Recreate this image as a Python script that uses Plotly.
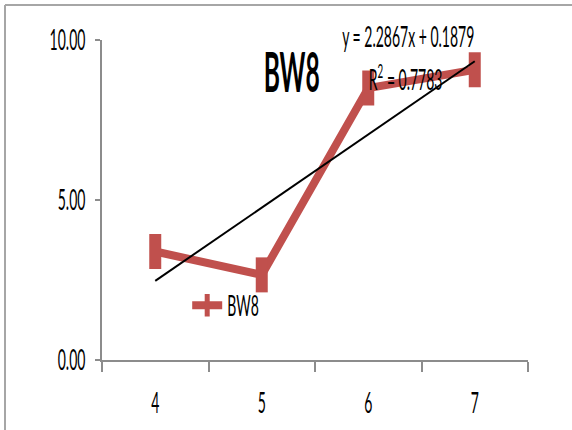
import numpy as np
import plotly.graph_objects as go

categories = ["4", "5", "6", "7"]
bw8_values = [3.39, 2.66, 8.50, 9.07]
y_tick_vals = [0, 5, 10]
y_tick_text = ["0.00", "5.00", "10.00"]
title_text = "BW8"
trend_eq_text = "y = 2.2867x + 0.1879"
trend_r2_text = "R<sup>2</sup> = 0.7783"

RED = "#C0504D"
AXIS = "#8C8C8C"
FONT = "Lato, Liberation Sans, sans-serif"

# linear trendline (Excel-style, x = 1..n)
xi = np.arange(1, len(bw8_values) + 1)
slope, intercept = np.polyfit(xi, bw8_values, 1)
trend_x = [categories[0], categories[-1]]
trend_y = [slope * xi[0] + intercept, slope * xi[-1] + intercept]

fig = go.Figure()
fig.add_trace(go.Scatter(
    x=categories, y=bw8_values, mode="lines+markers", name="BW8",
    line=dict(color=RED, width=8),
    marker=dict(symbol="line-ns", size=25, color=RED,
                line=dict(color=RED, width=12)),
))
fig.add_trace(go.Scatter(
    x=trend_x, y=trend_y, mode="lines", showlegend=False,
    line=dict(color="black", width=2), hoverinfo="skip",
))

fig.update_layout(
    width=572, height=430,
    margin=dict(l=102, r=44, t=40, b=70),
    paper_bgcolor="white", plot_bgcolor="white",
    font=dict(family=FONT, size=28, color="black"),
    showlegend=True,
    legend=dict(x=0.2, y=0.17, xanchor="left", yanchor="middle",
                bgcolor="rgba(0,0,0,0)", font=dict(size=28),
                itemwidth=30, tracegroupgap=0),
    title=dict(text="<b>" + title_text + "</b>", x=0.51, xanchor="center",
               y=1 - 72 / 430, yanchor="middle", yref="container",
               font=dict(size=56, family=FONT)),
)
fig.update_xaxes(
    type="category", categoryorder="array", categoryarray=categories,
    tickson="boundaries", ticks="outside", ticklen=10, tickwidth=2,
    tickcolor=AXIS, showline=True, linecolor=AXIS, linewidth=2,
    showgrid=False, zeroline=False, tickfont=dict(size=28),
    range=[-0.5, 3.5], fixedrange=True, ticklabelstandoff=17,
)
fig.update_yaxes(
    range=[0, 10], tickvals=y_tick_vals, ticktext=y_tick_text,
    ticks="outside", ticklen=5, tickwidth=2, tickcolor=AXIS,
    showline=True, linecolor=AXIS, linewidth=2,
    showgrid=False, zeroline=False, tickfont=dict(size=28),
    ticklabelstandoff=4,
)

fig.add_annotation(text=trend_eq_text, xref="paper", yref="paper",
                   x=(408 - 102) / 426, y=(360 - 36) / 320,
                   xanchor="center", yanchor="middle",
                   showarrow=False, font=dict(size=28))
fig.add_annotation(text=trend_r2_text, xref="paper", yref="paper",
                   x=(405 - 102) / 426, y=(360 - 77) / 320,
                   xanchor="center", yanchor="middle",
                   showarrow=False, font=dict(size=28))

# outer frame (top and left edges)
frame = dict(color="#A6A6A6", width=2)
fig.add_shape(type="line", xref="paper", yref="paper",
              x0=(5 - 102) / 426, x1=(572 - 102) / 426,
              y0=(360 - 5) / 320, y1=(360 - 5) / 320, line=frame)
fig.add_shape(type="line", xref="paper", yref="paper",
              x0=(5 - 102) / 426, x1=(5 - 102) / 426,
              y0=(360 - 5) / 320, y1=(360 - 430) / 320, line=frame)

# condensed lettering (the reference uses a narrow, tall face)
post = """
var gd = document.getElementById('{plot_id}');
function squeeze(){
  gd.querySelectorAll('svg text').forEach(function(t){
    var tr = t.getAttribute('transform') || '';
    if (tr.indexOf('scale(') >= 0) return;
    var bb;
    try { bb = t.getBBox(); } catch (e) { return; }
    if (!bb || bb.width === 0) return;
    var anchor = t.getAttribute('text-anchor') || window.getComputedStyle(t).textAnchor || 'start';
    var cx = bb.x;
    if (anchor === 'middle') cx = bb.x + bb.width / 2;
    else if (anchor === 'end') cx = bb.x + bb.width;
    var s = t.classList.contains('gtitle') ? 0.44 : 0.5;
    t.setAttribute('transform', tr + ' translate(' + cx + ',0) scale(' + s + ',1) translate(' + (-cx) + ',0)');
  });
}
squeeze();
setTimeout(squeeze, 50);
setTimeout(squeeze, 300);
"""

fig.write_html("out.html", post_script=post)
